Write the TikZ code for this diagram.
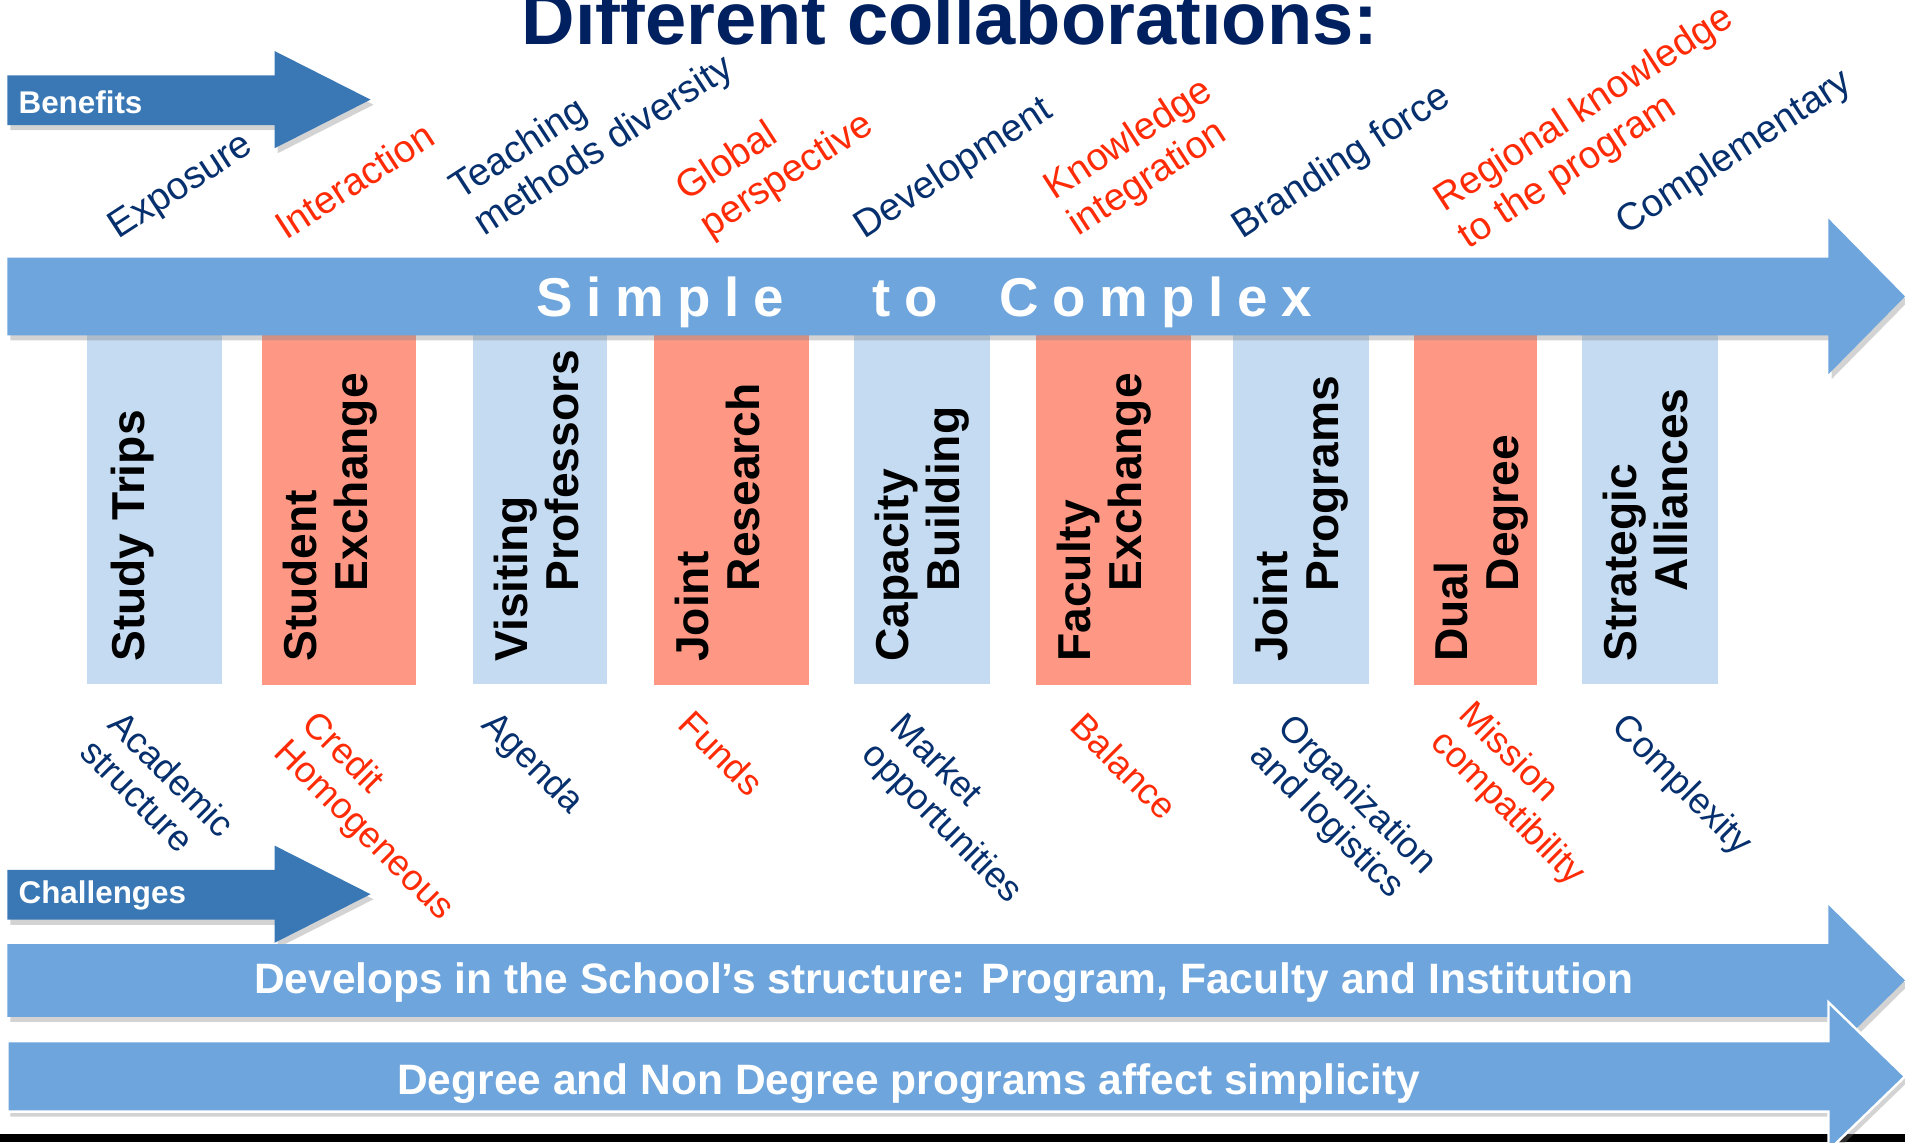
\documentclass[tikz,border=0pt]{standalone}
\usepackage{fontspec}
\setmainfont{Liberation Sans}
\usetikzlibrary{shadows}
\definecolor{navy}{HTML}{062F6E}
\definecolor{titleblue}{HTML}{00205F}
\definecolor{hotred}{HTML}{FF2B06}
\definecolor{darkarrow}{HTML}{3A78B5}
\definecolor{lightarrow}{HTML}{6DA5DC}
\definecolor{barblue}{HTML}{C5DBF1}
\definecolor{barsalmon}{HTML}{FE9885}
\tikzset{
% Two bar styles for the kinds of collaboration: blue and salmon
blue bar/.style={fill=barblue},
salmon bar/.style={fill=barsalmon},
bar label/.style={rotate=90,anchor=north west,inner sep=0,align=left,text=black,font=\bfseries\fontsize{22.8}{25.2}\selectfont},
% Benefits sit above the big arrow, challenges below the bars
benefit/.style={rotate=33,anchor=south west,inner sep=0,align=left,font=\fontsize{19}{21.5}\selectfont},
challenge/.style={rotate=-45,anchor=north west,inner sep=0,align=left,font=\fontsize{18}{19.5}\selectfont},
arrow shade/.style={drop shadow={shadow xshift=1.5pt,shadow yshift=-2.5pt,opacity=0.35}},
arrow text/.style={text=white,inner sep=0,font=\bfseries\fontsize{21}{24}\selectfont}
}

\begin{document}
\begin{tikzpicture}[x=0.6pt,y=-0.6pt]
\useasboundingbox (0,0) rectangle (1568,940);
% Title
\node(title)[anchor=base,text=titleblue,font=\bfseries\fontsize{36.6}{40}\selectfont] at (782,37) {Different collaborations:};
% Benefits arrow
\fill[darkarrow,arrow shade] (6,62) -- (226,62) -- (226,42) -- (305,82) -- (226,122) -- (226,103) -- (6,103) -- cycle;
\node(benefits)[anchor=west,text=white,inner sep=0,font=\bfseries\fontsize{15.5}{18}\selectfont] at (15,84) {Benefits};
% The bars
\fill[blue bar] (72,262) rectangle (183,563);
\fill[salmon bar] (216,262) rectangle (342,564);
\fill[blue bar] (389,262) rectangle (500,563);
\fill[salmon bar] (538,262) rectangle (666,564);
\fill[blue bar] (703,262) rectangle (815,563);
\fill[salmon bar] (853,262) rectangle (980,564);
\fill[blue bar] (1015,262) rectangle (1127,563);
\fill[salmon bar] (1164,262) rectangle (1265,564);
\fill[blue bar] (1302,262) rectangle (1414,563);
\node(trips)[bar label] at (91,545) {Study Trips};
\node(student)[bar label] at (233,545) {Student\\\hspace*{34.8pt}Exchange};
\node(visiting)[bar label] at (406,545) {Visiting\\\hspace*{34.8pt}Professors};
\node(research)[bar label] at (555,545) {Joint\\\hspace*{34.8pt}Research};
\node(capacity)[bar label] at (720,545) {Capacity\\\hspace*{34.8pt}Building};
\node(faculty)[bar label] at (870,545) {Faculty\\\hspace*{34.8pt}Exchange};
\node(programs)[bar label] at (1032,545) {Joint\\\hspace*{34.8pt}Programs};
\node(dual)[bar label] at (1180,545) {Dual\\\hspace*{34.8pt}Degree};
\node(alliances)[bar label] at (1319,545) {Strategic\\\hspace*{34.8pt}Alliances};
% Simple to complex arrow
\fill[lightarrow,arrow shade] (6,212) -- (1505,212) -- (1505,180) -- (1568,244) -- (1505,308) -- (1505,276) -- (6,276) -- cycle;
\node(scale)[anchor=west,text=white,inner sep=0,font=\bfseries\fontsize{27}{30}\selectfont\addfontfeature{LetterSpace=25}] at (441,249) {Simple\hspace{29.4pt} to\hspace{16.2pt} Complex};
% Benefits
\node(exposure)[benefit,text=navy] at (101,203) {Exposure};
\node(interaction)[benefit,text=hotred] at (236,199) {Interaction};
\node(teaching)[benefit,text=navy] at (402,201) {Teaching\\methods diversity};
\node(global)[benefit,text=hotred] at (588,202) {Global\\perspective};
\node(development)[benefit,text=navy] at (715,203) {Development};
\node(knowledge)[benefit,text=hotred] at (891,201) {Knowledge\\integration};
\node(branding)[benefit,text=navy] at (1026,203) {Branding force};
\node(regional)[benefit,text=hotred] at (1212,211) {Regional knowledge\\to the program};
\node(complementary)[benefit,text=navy] at (1342,200) {Complementary};
% Challenges
\node(academic)[challenge,text=navy] at (103,582) {Academic\\structure};
\node(credit)[challenge,text=hotred] at (263,582) {Credit\\Homogeneous};
\node(agenda)[challenge,text=navy] at (411,582) {Agenda};
\node(funds)[challenge,text=hotred] at (572,582) {Funds};
\node(market)[challenge,text=navy] at (747,584) {Market\\opportunities};
\node(balance)[challenge,text=hotred] at (895,584) {Balance};
\node(organization)[challenge,text=navy] at (1066,585) {Organization\\and logistics};
\node(mission)[challenge,text=hotred] at (1215,574) {Mission\\compatibility};
\node(complexity)[challenge,text=navy] at (1341,584) {Complexity};
% Challenges arrow
\fill[darkarrow,arrow shade] (6,716) -- (226,716) -- (226,696) -- (305,736) -- (226,776) -- (226,757) -- (6,757) -- cycle;
\node(challenges)[anchor=west,text=white,inner sep=0,font=\bfseries\fontsize{15.5}{18}\selectfont] at (15,737) {Challenges};
% Bottom arrows
\fill[lightarrow,arrow shade] (6,777) -- (1505,777) -- (1505,745) -- (1568,807) -- (1505,869) -- (1505,837) -- (6,837) -- cycle;
\node(develops)[arrow text] at (777,809) {Develops in the School’s structure: Program, Faculty and Institution};
\fill[black] (0,933) rectangle (1568,940);
\filldraw[lightarrow,draw=white,line width=1.2pt,arrow shade] (6,857) -- (1505,857) -- (1505,825) -- (1568,886) -- (1505,947) -- (1505,915) -- (6,915) -- cycle;
\node(degree)[arrow text] at (748,892) {Degree and Non Degree programs affect simplicity};
\end{tikzpicture}
\end{document}
